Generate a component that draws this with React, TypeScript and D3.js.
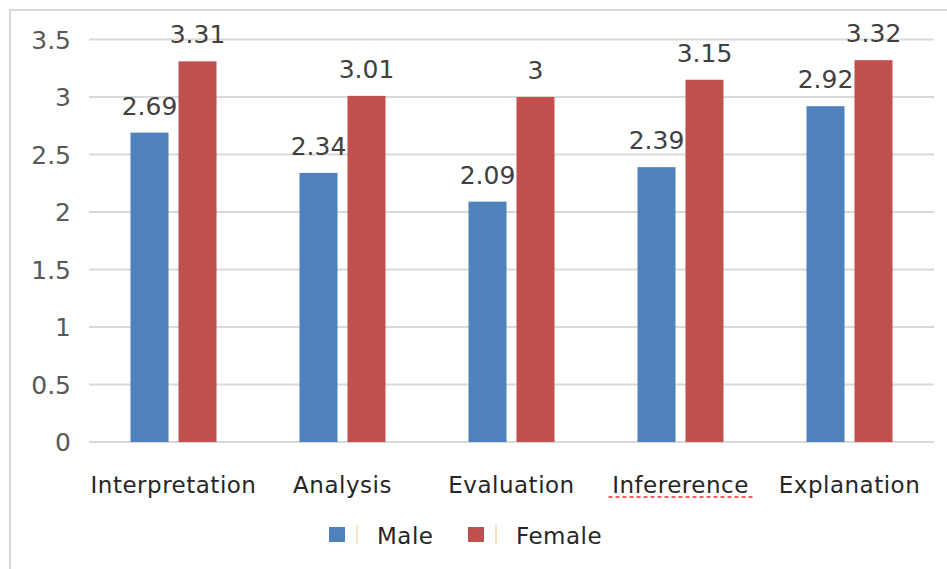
import React from "react";
import * as d3 from "d3";

const categories = ["Interpretation", "Analysis", "Evaluation", "Inferernce", "Explanation"];
const categoryText = ["Interpretation", "Analysis", "Evaluation", "Infererence", "Explanation"];
const maleValues = [2.69, 2.34, 2.09, 2.39, 2.92];
const femaleValues = [3.31, 3.01, 3.0, 3.15, 3.32];
const yTicks = [0, 0.5, 1, 1.5, 2, 2.5, 3, 3.5];
const seriesNames = ["Male", "Female"];
const seriesColors = ["#4F81BD", "#C0504D"];

const W = 947;
const H = 569;
const plot = { left: 89, right: 934, top: 39.5, bottom: 442 };

export default function App() {
  const x = d3.scaleBand<string>().domain(categories).range([plot.left, plot.right]).paddingInner(0).paddingOuter(0);
  const y = d3.scaleLinear().domain([0, 3.5]).range([plot.bottom, plot.top]);
  const inner = d3.scaleBand<string>().domain(seriesNames).range([0, x.bandwidth()]).paddingInner(0.208).paddingOuter(0.865);
  const series = [maleValues, femaleValues];
  const numFont = "'DejaVu Sans', Verdana, sans-serif";
  const fmt = (v: number) => String(+v.toFixed(2));

  return (
    <svg width={W} height={H} style={{ position: "absolute", left: 0, top: 0, background: "#fff" }}>
      <rect x={10} y={10} width={W + 20} height={H + 20} fill="#fff" stroke="#d9d9d9" strokeWidth={2} />
      {yTicks.map((t) => (
        <g key={t}>
          <line x1={plot.left} x2={plot.right} y1={y(t)} y2={y(t)} stroke="#d9d9d9" strokeWidth={2} />
          <text x={71} y={y(t)} dy="0.36em" textAnchor="end" fontFamily={numFont} fontSize={25} fill="#595959">
            {fmt(t)}
          </text>
        </g>
      ))}
      {categories.map((c, i) => (
        <g key={c}>
          {series.map((vals, s) => {
            const bx = (x(c) as number) + (inner(seriesNames[s]) as number);
            const bw = inner.bandwidth();
            return (
              <g key={s}>
                <rect x={bx} y={y(vals[i])} width={bw} height={plot.bottom - y(vals[i])} fill={seriesColors[s]} />
                <text x={bx + bw / 2} y={y(vals[i]) - 18} textAnchor="middle" fontFamily={numFont} fontSize={25} fill="#404040">
                  {fmt(vals[i])}
                </text>
              </g>
            );
          })}
          <text
            x={(x(c) as number) + x.bandwidth() / 2}
            y={493}
            textAnchor="middle"
            fontFamily={numFont}
            fontSize={23}
            letterSpacing={0.5}
            fill="#262626"
          >
            {categoryText[i]}
          </text>
          {i === 3 && (
            <line
              x1={(x(c) as number) + x.bandwidth() / 2 - 72}
              x2={(x(c) as number) + x.bandwidth() / 2 + 72}
              y1={497}
              y2={497}
              stroke="#e03030"
              strokeWidth={1.5}
              strokeDasharray="4 3"
            />
          )}
        </g>
      ))}
      {seriesNames.map((n, s) => {
        const lx = [329, 468][s];
        return (
          <g key={n}>
            <rect x={lx} y={527} width={16} height={15} fill={seriesColors[s]} />
            <line x1={lx + 28} x2={lx + 28} y1={525} y2={544} stroke="#f5d9a8" strokeWidth={1.5} />
            <text x={lx + 48} y={544} fontFamily={numFont} fontSize={23} letterSpacing={0.5} fill="#262626">
              {n}
            </text>
          </g>
        );
      })}
    </svg>
  );
}
